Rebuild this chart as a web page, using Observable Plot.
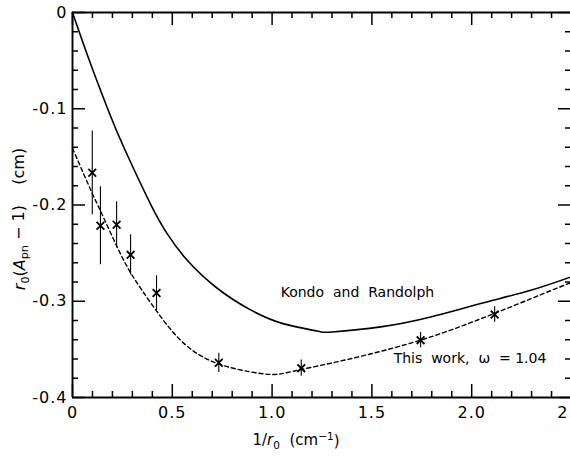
<!DOCTYPE html>
<html><head><meta charset="utf-8">
<script src="https://cdn.jsdelivr.net/npm/d3@7"></script>
<script src="https://cdn.jsdelivr.net/npm/@observablehq/plot@0.6"></script>
<style>
html,body{margin:0;padding:0;background:#fff;overflow:hidden;width:570px;height:457px}
#chart svg{max-width:none!important;width:590px!important;height:457px!important;overflow:visible}
</style></head><body><div id="chart"></div>
<script>
// measured points (x = 1/r0 in cm^-1, y = r0(Apn-1) in cm) with error half-widths
const pointX   = [0.099, 0.140, 0.221, 0.291, 0.421, 0.733, 1.146, 1.744, 2.115];
const pointY   = [-0.1665, -0.2215, -0.2205, -0.2518, -0.2914, -0.364, -0.3695, -0.3404, -0.3138];
const pointErr = [0.0435, 0.0405, 0.024, 0.021, 0.018, 0.010, 0.0085, 0.008, 0.008];

// Kondo and Randolph curve (solid)
const kondoX = [0, 0.09, 0.18, 0.257, 0.391, 0.475, 0.575, 0.725, 0.892, 1.059, 1.226, 1.3, 1.544, 1.794, 2.045, 2.296, 2.5];
const kondoY = [0, -0.053, -0.102, -0.140, -0.199, -0.230, -0.2575, -0.2865, -0.309, -0.3235, -0.331, -0.332, -0.3266, -0.3163, -0.3024, -0.2886, -0.2745];

// This work, omega = 1.04 (dashed)
const fitX = [0, 0.099, 0.14, 0.224, 0.299, 0.4, 0.541, 0.725, 0.942, 1.043, 1.143, 1.377, 1.744, 2.112, 2.463, 2.5];
const fitY = [-0.141, -0.188, -0.206, -0.2437, -0.273, -0.304, -0.3404, -0.3646, -0.375, -0.3755, -0.371, -0.3605, -0.3404, -0.3128, -0.2834, -0.281];

// axis ticks
const xTickValues = [0, 0.5, 1, 1.5, 2, 2.5];
const xTickLabels = ["0", "0.5", "1.0", "1.5", "2.0", "2.5"];
const yTickValues = [0, -0.1, -0.2, -0.3, -0.4];
const yTickLabels = ["0", "-0.1", "-0.2", "-0.3", "-0.4"];
const xMinorTicks = d3.range(0, 26).map(i => i / 10);
const yMinorTicks = d3.range(0, 21).map(i => -i / 50);

// annotations
const notes = [
  {x: 1.043, y: -0.2907, text: "Kondo  and  Randolph"},
  {x: 1.609, y: -0.360, text: "This  work,  \u03c9  = 1.04"}
];

const points = pointX.map((x, i) => ({x, y: pointY[i], e: pointErr[i]}));
const kondo = kondoX.map((x, i) => ({x, y: kondoY[i]}));
const fit = fitX.map((x, i) => ({x, y: fitY[i]}));

const W = 590, H = 457, mL = 72, mR = 19, mT = 12, mB = 60;
const innerW = W - mL - mR, innerH = H - mT - mB;
const xPerPx = 2.5 / innerW, yPerPx = 0.4 / innerH;
const minorLen = 6, majorLen = 13;
const isMajorX = v => Math.abs(v * 2 - Math.round(v * 2)) < 1e-6;
const isMajorY = v => Math.abs(v * 10 - Math.round(v * 10)) < 1e-6;
const xTickRows = xMinorTicks.map(v => ({v, len: (isMajorX(v) ? majorLen : minorLen) * yPerPx}));
const yTickRows = yMinorTicks.map(v => ({v, len: (isMajorY(v) ? majorLen : minorLen) * xPerPx}));
const frameX = [{x: 0}, {x: 2.5}];
const frameY = [{y: 0}, {y: -0.4}];

const plot = Plot.plot({
  width: W, height: H,
  marginLeft: mL, marginRight: mR, marginTop: mT, marginBottom: mB,
  style: {fontFamily: "DejaVu Sans", color: "#000"},
  x: {domain: [0, 2.5]},
  y: {domain: [-0.4, 0]},
  marks: [
    Plot.axisX({ticks: xTickValues, tickSize: 0, tickPadding: 9, fontSize: 16,
      tickFormat: d => xTickLabels[xTickValues.indexOf(d)], label: null}),
    Plot.axisY({ticks: yTickValues, tickSize: 0, tickPadding: 5, fontSize: 16,
      tickFormat: d => yTickLabels[yTickValues.indexOf(d)], label: null}),
    // curves
    Plot.line(kondo, {x: "x", y: "y", curve: "natural", stroke: "black", strokeWidth: 1.6}),
    Plot.line(fit, {x: "x", y: "y", curve: "natural", stroke: "black", strokeWidth: 1.4, strokeDasharray: "4,3"}),
    // data points with error bars
    Plot.ruleX(points, {x: "x", y1: d => d.y - d.e, y2: d => d.y + d.e, stroke: "black", strokeWidth: 1.1}),
    Plot.dot(points, {x: "x", y: "y", symbol: "times", r: 3.6, stroke: "black", strokeWidth: 1.8}),
    // annotations
    Plot.text(notes, {x: "x", y: "y", text: "text", textAnchor: "start", fontSize: 14, fill: "black"}),
    // inward ticks on all four sides
    Plot.ruleX(xTickRows, {x: "v", y1: d => -0.4, y2: d => -0.4 + d.len, stroke: "black", strokeWidth: 1.5}),
    Plot.ruleX(xTickRows, {x: "v", y1: d => 0, y2: d => -d.len, stroke: "black", strokeWidth: 1.5}),
    Plot.ruleY(yTickRows, {y: "v", x1: d => 0, x2: d => d.len, stroke: "black", strokeWidth: 1.5}),
    Plot.ruleY(yTickRows, {y: "v", x1: d => 2.5, x2: d => 2.5 - d.len, stroke: "black", strokeWidth: 1.5}),
    // frame
    Plot.ruleX(frameX, {x: "x", y1: d => -0.4, y2: d => 0, stroke: "black", strokeWidth: 1.9}),
    Plot.ruleY(frameY, {y: "y", x1: d => 0, x2: d => 2.5, stroke: "black", strokeWidth: 1.9}),
    // axis titles (placeholders, turned into rich text below)
    Plot.text(["XLABEL"], {frameAnchor: "bottom", textAnchor: "middle", lineAnchor: "middle", dx: -26, dy: 43, fontSize: 15, fill: "black"}),
    Plot.text(["YLABEL"], {frameAnchor: "left", textAnchor: "middle", lineAnchor: "middle", dx: -53, dy: 14, rotate: -90, fontSize: 16, fill: "black"})
  ]
});

const svg = d3.select(plot);
function rich(sel, parts) {
  sel.text(null);
  sel.style("white-space", "pre");
  for (const p of parts) {
    const ts = sel.append("tspan").text(p.t);
    if (p.i) ts.attr("font-style", "italic");
    if (p.fs) ts.attr("font-size", p.fs);
    if (p.dy) ts.attr("dy", p.dy);
  }
}
svg.selectAll("text").each(function() {
  const t = d3.select(this);
  const s = t.text();
  if (s === "XLABEL") {
    rich(t, [{t: "1/"}, {t: "r", i: true}, {t: "0", fs: "0.7em", dy: "0.35em"}, {t: "  (cm", dy: "-0.25em"},
             {t: "\u22121", fs: "0.7em", dy: "-0.5em"}, {t: ")", dy: "0.4em"}]);
  } else if (s === "YLABEL") {
    rich(t, [{t: "r", i: true}, {t: "0", fs: "0.7em", dy: "0.35em"}, {t: "(", dy: "-0.25em"}, {t: "A", i: true},
             {t: "pn", fs: "0.7em", dy: "0.35em"}, {t: " \u2212 1)    (cm)", dy: "-0.25em"}]);
  }
});
svg.selectAll("g[aria-label='y-axis tick label'] text, g[aria-label='x-axis tick label'] text").attr("letter-spacing", "1");
document.getElementById("chart").appendChild(plot);
</script></body></html>
